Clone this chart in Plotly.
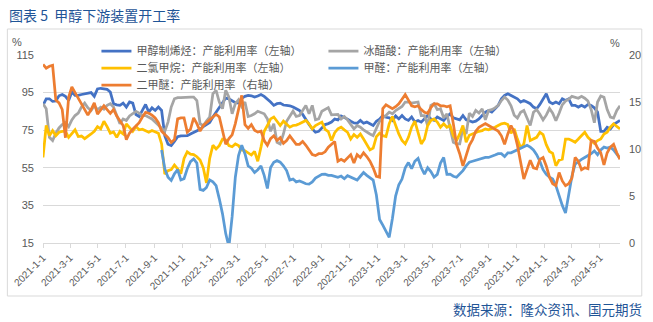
import pandas as pd
import plotly.graph_objects as go

dates = pd.date_range("2021-01-01", periods=181, freq="7D")

olefin = [
    88.2, 91.7, 91.7, 90.3, 90.5, 93.3, 94.0, 93.0, 90.8, 95.3,
    93.5, 93.5, 94.0, 94.4, 94.4, 95.0, 93.0, 96.9, 97.3, 97.1,
    96.7, 95.3, 89.1, 88.5, 88.2, 89.4, 87.3, 90.0, 89.4, 83.3,
    82.3, 85.5, 88.7, 84.6, 86.9, 85.5, 87.3, 85.5, 72.0, 67.5,
    66.8, 69.0, 71.5, 72.0, 72.0, 72.1, 73.0, 73.9, 74.4, 75.5,
    76.9, 78.2, 79.1, 82.0, 84.6, 87.3, 90.0, 92.1, 91.7, 90.5,
    89.6, 89.4, 91.9, 93.0, 93.5, 93.3, 92.6, 93.2, 94.0, 93.0,
    91.7, 90.0, 88.2, 89.1, 89.4, 88.4, 88.2, 88.0, 87.3, 86.4,
    85.5, 83.4, 80.5, 78.0, 75.7, 73.9, 74.4, 76.2, 78.0, 78.5,
    79.3, 80.9, 80.5, 82.6, 81.9, 80.9, 79.8, 78.9, 78.7, 80.2,
    78.7, 79.3, 78.4, 77.5, 79.8, 80.9, 82.8, 81.9, 81.6, 80.2,
    82.6, 81.0, 82.8, 81.0, 80.2, 82.0, 79.4, 80.2, 79.3, 81.0,
    82.8, 81.0, 80.2, 82.0, 81.0, 80.2, 82.2, 83.7, 81.6, 81.0,
    80.5, 82.8, 80.5, 80.0, 79.3, 79.8, 81.0, 82.8, 84.6, 85.5,
    84.6, 86.4, 88.2, 91.7, 93.5, 94.4, 93.5, 92.6, 91.7, 90.0,
    90.8, 90.0, 89.1, 87.3, 86.4, 88.7, 91.2, 94.4, 90.0, 89.1,
    90.0, 89.1, 91.7, 90.8, 91.7, 88.2, 88.2, 87.3, 88.2, 87.3,
    88.7, 88.2, 86.9, 84.6, 74.4, 74.4, 76.6, 75.7, 78.0, 79.1,
    80.2]

acetic = [
    89.1, 86.4, 71.2, 69.5, 73.4, 76.2, 78.0, 79.1, 76.9, 80.5,
    82.8, 84.1, 87.3, 89.4, 86.9, 85.5, 88.0, 85.9, 87.3, 86.2,
    88.2, 89.1, 87.3, 83.3, 78.4, 81.0, 80.2, 82.6, 83.7, 85.0,
    84.1, 82.8, 82.8, 81.9, 81.0, 79.3, 77.5, 75.7, 74.4, 79.3,
    87.3, 91.7, 92.3, 92.3, 92.5, 92.6, 92.6, 92.6, 90.8, 78.4,
    77.5, 79.8, 82.0, 94.4, 96.2, 90.0, 86.4, 96.2, 92.6, 83.7,
    89.1, 91.2, 87.6, 90.0, 82.3, 82.8, 83.7, 85.1, 84.6, 83.7,
    81.0, 74.4, 78.4, 68.6, 67.7, 73.0, 79.8, 82.8, 85.1, 82.3,
    82.8, 85.5, 88.2, 83.7, 88.2, 80.5, 81.0, 85.1, 86.2, 87.0,
    83.2, 83.4, 83.4, 81.0, 82.3, 80.5, 78.4, 75.7, 77.5, 76.6,
    75.2, 73.9, 73.0, 72.1, 75.7, 79.8, 81.6, 82.8, 84.6, 83.7,
    85.5, 86.4, 87.6, 90.0, 90.0, 89.4, 89.6, 90.0, 82.8, 82.8,
    77.5, 88.2, 89.1, 85.9, 86.4, 81.6, 83.7, 76.6, 68.6, 67.7,
    67.7, 76.2, 73.0, 84.0, 82.3, 85.5, 84.1, 86.4, 80.5, 85.5,
    85.9, 86.9, 88.2, 90.8, 92.6, 91.0, 88.0, 83.0, 81.5, 84.5,
    85.5, 81.5, 77.5, 84.5, 86.0, 83.5, 80.5, 83.0, 86.5, 84.0,
    80.0, 84.0, 88.5, 90.5, 91.5, 93.0, 92.5, 92.0, 93.0, 92.0,
    90.5, 86.0, 79.0, 90.0, 93.2, 92.5, 86.0, 82.0, 81.5, 85.5,
    88.0]

dcm = [
    60.5, 77.5, 72.1, 74.8, 72.1, 73.9, 74.4, 74.4, 71.2, 73.4,
    75.2, 71.6, 71.9, 70.5, 71.6, 73.0, 74.4, 76.9, 75.7, 79.8,
    76.9, 73.4, 74.1, 71.2, 74.4, 73.0, 78.4, 76.2, 74.4, 76.9,
    75.2, 75.5, 74.8, 73.9, 74.8, 74.1, 73.4, 67.7, 51.6, 53.5,
    54.0, 56.5, 54.5, 51.8, 60.0, 63.5, 62.3, 62.0, 60.9, 59.1,
    55.0, 47.0, 60.0, 67.0, 65.0, 66.8, 70.3, 69.8, 66.8, 66.2,
    67.7, 66.8, 64.5, 64.1, 62.7, 61.8, 63.7, 58.5, 66.0, 74.4,
    77.5, 81.0, 82.0, 79.8, 77.5, 79.8, 78.4, 76.6, 77.5, 77.7,
    78.4, 79.3, 80.2, 78.4, 75.7, 77.5, 78.4, 79.3, 75.5, 74.3,
    69.5, 73.7, 75.7, 76.6, 75.2, 73.9, 70.3, 72.7, 71.2, 73.0,
    70.3, 67.7, 64.5, 65.5, 71.6, 73.4, 72.1, 71.6, 78.4, 82.3,
    77.5, 73.0, 69.5, 67.7, 71.2, 76.6, 79.8, 74.4, 67.7, 70.3,
    77.5, 80.2, 81.0, 79.3, 76.6, 78.4, 76.6, 77.5, 72.1, 69.5,
    73.0, 77.5, 68.6, 72.3, 73.0, 73.9, 74.4, 74.8, 75.7, 75.2,
    75.7, 76.6, 77.5, 78.4, 78.7, 78.0, 73.4, 75.7, 70.3, 65.5,
    67.7, 77.5, 69.5, 70.3, 71.2, 73.9, 72.7, 67.3, 63.7, 62.7,
    56.1, 59.1, 59.6, 70.3, 70.3, 69.5, 68.6, 70.3, 72.1, 73.9,
    71.2, 69.5, 68.0, 69.5, 70.3, 73.0, 73.9, 76.6, 78.4, 77.0,
    75.7]

formaldehyde = [None] * 37 + [
    64.5, 54.5, 50.0, 48.3, 51.8, 54.0, 48.5, 49.2, 54.5, 58.3,
    59.7, 57.5, 43.5, 43.0, 44.5, 48.5, 47.5, 45.5, 38.5, 30.5,
    20.0, 13.0, 29.0, 50.0, 61.5, 67.0, 62.5, 56.0, 54.8, 52.5,
    54.0, 56.0, 51.0, 44.0, 55.2, 57.9, 58.8, 58.0, 56.1, 53.5,
    48.5, 49.0, 47.5, 48.0, 47.3, 46.5, 46.3, 47.5, 49.5, 50.5,
    51.5, 51.6, 51.0, 51.0, 50.5, 50.0, 50.6, 49.2, 50.8, 50.0,
    49.3, 48.5, 50.5, 52.5, 51.0, 49.8, 48.5, 40.5, 27.5, 24.5,
    21.5, 18.0, 28.0, 40.0, 46.0, 49.0, 55.0, 57.8, 54.5, 58.5,
    60.0, 55.0, 51.6, 55.0, 53.0, 50.0, 51.5, 57.5, 60.5, 51.5,
    51.6, 50.5, 50.0, 51.5, 53.5, 56.0, 58.0, 58.5, 59.0, 59.3,
    60.0, 60.5, 60.5, 61.0, 61.8, 62.5, 62.5, 61.0, 63.0, 63.0,
    63.8, 64.5, 65.5, 66.5, 67.0, 66.0, 64.5, 62.0, 58.5, 54.0,
    51.5, 50.0, 49.0, 45.5, 40.0, 35.0, 31.0, 40.0, 50.5, 57.0,
    58.5, 59.5, 60.5, 61.5, 62.5, 64.0, 62.0, 64.5, 66.0, 65.5,
    66.0, 64.5, 62.5, 60.0]

dme = [
    19.0, 18.6, 18.8, 18.9, 15.2, 14.9, 14.2, 11.2, 15.5, 16.6,
    16.0, 15.4, 14.7, 14.1, 13.6, 14.2, 14.9, 13.7, 14.1, 14.6,
    14.2, 13.8, 14.2, 13.5, 13.0, 12.5, 11.0, 11.7, 12.1, 12.5,
    12.8, 13.4, 13.9, 13.8, 13.6, 13.3, 12.8, 11.9, 11.6, 11.2,
    10.7, 11.0, 13.2, 13.3, 13.3, 11.8, 12.1, 13.3, 12.7, 11.9,
    12.5, 12.8, 13.1, 13.5, 13.7, 13.4, 11.8, 10.5, 11.1, 11.5,
    12.7, 14.1, 15.7, 12.6, 12.2, 12.6, 12.0, 11.8, 11.9, 10.9,
    10.4, 11.1, 11.4, 10.9, 11.2, 10.6, 10.9, 11.4, 10.9, 10.5,
    10.5, 10.8, 10.4, 9.9, 9.4, 9.3, 9.5, 9.5, 9.7, 10.2,
    10.5, 10.8, 8.7, 8.9, 8.7, 9.1, 9.4, 8.5, 9.4, 9.1,
    9.6, 9.2, 8.7, 8.0, 7.1, 7.0, 14.3, 14.7, 14.5, 14.3,
    14.5, 14.8, 15.3, 15.8, 15.2, 14.6, 14.5, 14.6, 14.2, 13.9,
    13.8, 14.4, 14.8, 14.8, 14.6, 14.6, 14.5, 14.6, 12.7, 10.5,
    9.5, 8.2, 9.3, 10.4, 11.0, 11.9, 12.3, 12.5, 12.7, 12.5,
    12.3, 12.1, 11.9, 11.4, 10.5, 11.6, 12.5, 11.8, 10.4, 8.6,
    6.8, 7.8, 8.8, 8.0, 7.9, 8.9, 9.1, 8.2, 7.0, 6.3,
    6.1, 7.5, 6.6, 6.1, 6.3, 6.9, 9.1, 8.7, 7.8, 8.0,
    7.9, 10.9, 10.8, 10.1, 9.6, 8.3, 9.6, 10.2, 10.5, 9.6,
    8.9]

tick_dates = ["2021-01-01", "2021-03-01", "2021-05-01", "2021-07-01", "2021-09-01",
              "2021-11-01", "2022-01-01", "2022-03-01", "2022-05-01", "2022-07-01",
              "2022-09-01", "2022-11-01", "2023-01-01", "2023-03-01", "2023-05-01",
              "2023-07-01", "2023-09-01", "2023-11-01", "2024-01-01", "2024-03-01",
              "2024-05-01"]
tick_text = ["2021-1-1", "2021-3-1", "2021-5-1", "2021-7-1", "2021-9-1", "2021-11-1",
             "2022-1-1", "2022-3-1", "2022-5-1", "2022-7-1", "2022-9-1", "2022-11-1",
             "2023-1-1", "2023-3-1", "2023-5-1", "2023-7-1", "2023-9-1", "2023-11-1",
             "2024-1-1", "2024-3-1", "2024-5-1"]

names = ["甲醇制烯烃：产能利用率（左轴）", "冰醋酸：产能利用率（左轴）",
         "二氯甲烷：产能利用率（左轴）", "甲醛：产能利用率（左轴）",
         "二甲醚：产能利用率（右轴）"]
colors = ["#4472C4", "#A5A5A5", "#FFC000", "#5B9BD5", "#ED7D31"]
series = [olefin, acetic, dcm, formaldehyde, dme]
axes = ["y", "y", "y", "y", "y2"]
legend_ids = ["legend", "legend", "legend2", "legend2", "legend3"]

fig = go.Figure()
for name, col, vals, ax, lg in zip(names, colors, series, axes, legend_ids):
    fig.add_trace(go.Scatter(x=dates, y=vals, name=name, yaxis=ax, mode="lines",
                             legend=lg,
                             line=dict(color=col, width=2.75), connectgaps=False))

W, H = 653, 322
L, R, T, B = 40, 30, 55, 79
pw, ph = W - L - R, H - T - B


def px(x):
    return (x - L) / pw


def py(y):
    return (H - B - y) / ph


cjk = "Noto Sans CJK SC"
grey = "#595959"


def legend_row(yc):
    return dict(orientation="h", x=px(94), y=py(yc), xanchor="left", yanchor="middle",
                entrywidth=182, entrywidthmode="pixels", bgcolor="rgba(0,0,0,0)",
                font=dict(family=cjk, size=11, color=grey), itemwidth=30,
                tracegroupgap=0)


fig.update_layout(
    width=W, height=H, margin=dict(l=L, r=R, t=T, b=B),
    paper_bgcolor="white", plot_bgcolor="white",
    font=dict(family=cjk, color=grey, size=11),
    showlegend=True,
    legend=legend_row(51),
    legend2=legend_row(68),
    legend3=legend_row(85),
    xaxis=dict(type="date", range=[dates[0], dates[-1]], tickvals=tick_dates,
               ticktext=tick_text, tickangle=-45, showgrid=False,
               showline=True, linecolor="#D9D9D9", linewidth=1,
               ticks="outside", ticklen=4, tickcolor="#D9D9D9",
               tickfont=dict(family="Liberation Sans", size=10, color=grey)),
    yaxis=dict(range=[15, 115], tick0=15, dtick=20, showgrid=True, gridcolor="#D9D9D9",
               gridwidth=1, zeroline=False, showline=False, ticks="",
               ticklabelstandoff=8,
               tickfont=dict(family="Liberation Sans", size=11, color=grey)),
    yaxis2=dict(range=[0, 20], tick0=0, dtick=5, overlaying="y", side="right",
                showgrid=False, zeroline=False, showline=False, ticks="",
                ticklabelstandoff=8,
                tickfont=dict(family="Liberation Sans", size=11, color=grey)),
)

fig.add_shape(type="rect", xref="paper", yref="paper",
              x0=px(4), x1=px(645), y0=py(296), y1=py(29),
              line=dict(color="#D9D9D9", width=1), fillcolor="rgba(0,0,0,0)", layer="below")

fig.add_annotation(text="图表 5  甲醇下游装置开工率", xref="paper", yref="paper",
                   x=px(4), y=py(15), xanchor="left", yanchor="middle", showarrow=False,
                   font=dict(family=cjk, size=14, color="#1F5597"))
fig.add_annotation(text="数据来源：隆众资讯、国元期货", xref="paper", yref="paper",
                   x=px(647), y=py(309), xanchor="right", yanchor="middle", showarrow=False,
                   font=dict(family=cjk, size=13.5, color="#1F5597"))
fig.add_annotation(text="%", xref="paper", yref="paper", x=px(14), y=py(42),
                   xanchor="center", yanchor="middle", showarrow=False,
                   font=dict(family="Liberation Sans", size=11, color=grey))
fig.add_annotation(text="%", xref="paper", yref="paper", x=px(618), y=py(43),
                   xanchor="center", yanchor="middle", showarrow=False,
                   font=dict(family="Liberation Sans", size=11, color=grey))

fig.write_html("out.html")
